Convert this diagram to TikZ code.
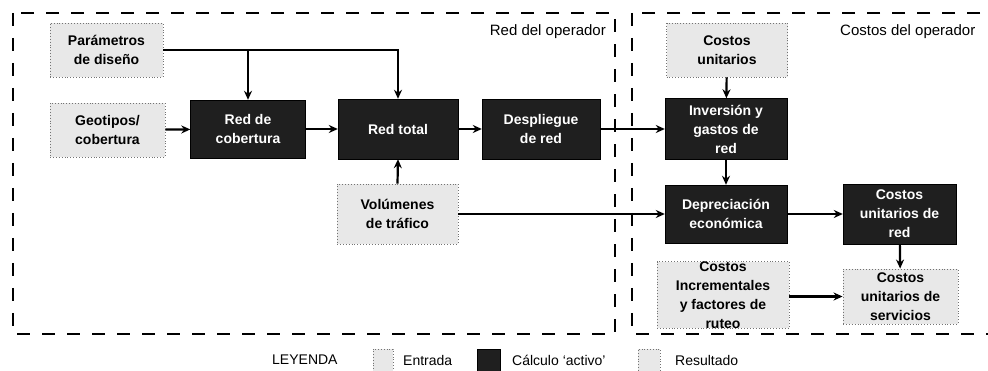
\documentclass[tikz,border=0pt]{standalone}
\usepackage{fontspec}
\setmainfont{Liberation Sans}
\usetikzlibrary{arrows.meta}
\begin{document}
\begin{tikzpicture}[x=1pt,y=-1pt,
  boxfont/.style={font=\fontsize{14}{19}\selectfont\bfseries},
  inbox/.style={boxfont, draw=black!55, dotted, line width=0.9pt, fill=black!9, align=center, inner sep=0pt},
  calcbox/.style={boxfont, draw=black, fill=black!88, text=white, align=center, inner sep=0pt},
  arr/.style={line width=2.2pt, -{Stealth[length=9pt,width=8pt]}},
  zone/.style={dash pattern=on 13pt off 12pt, line width=2.4pt},
  zonelabel/.style={font=\fontsize{15}{18}\selectfont, inner sep=0pt},
  legtext/.style={font=\fontsize{14}{17}\selectfont, inner sep=0pt, anchor=west},
]
\useasboundingbox (0,0) rectangle (988,371);
\clip (0,0) rectangle (988,371);
\fill[white] (0,0) rectangle (988,371);

% zones
\draw[zone] (13,13) rectangle (615,334);
\draw[zone] (632,13) rectangle (1010,334);
\node[zonelabel, anchor=east] (lz) at (606,32) {Red del operador};
\node[zonelabel, anchor=west] (rz) at (840,32) {Costos del operador};

% input boxes
\node[inbox, minimum width=113pt, minimum height=54pt] (param) at (106.5,50) {Parámetros\\de diseño};
\node[inbox, minimum width=115pt, minimum height=54pt] (geo) at (107.5,130) {Geotipos/\\cobertura};
\node[inbox, minimum width=121pt, minimum height=60pt] (vol) at (397.5,214) {Volúmenes\\de tráfico};
\node[inbox, minimum width=121pt, minimum height=54pt] (cu) at (727,50) {Costos\\unitarios};
\node[inbox, minimum width=132pt, minimum height=65pt] (inc) at (723,295) {Costos\\Incrementales\\y factores de\\ruteo};
\node[inbox, minimum width=115pt, minimum height=55pt] (cus) at (900.5,296.5) {Costos\\unitarios de\\servicios};

% calculation boxes
\node[calcbox, minimum width=115pt, minimum height=58pt] (cob) at (248,129) {Red de\\cobertura};
\node[calcbox, minimum width=120pt, minimum height=60pt] (tot) at (398,129) {Red total};
\node[calcbox, minimum width=118pt, minimum height=60pt] (desp) at (541,129) {Despliegue\\de red};
\node[calcbox, minimum width=122pt, minimum height=61pt] (inv) at (726,129) {Inversión y\\gastos de\\red};
\node[calcbox, minimum width=122pt, minimum height=58pt] (dep) at (726,214) {Depreciación\\económica};
\node[calcbox, minimum width=113pt, minimum height=60pt] (cur) at (899.5,214) {Costos\\unitarios de\\red};

% connectors
\draw[arr] (param.east) -| (tot.north);
\draw[arr] (param.east -| cob.north) -- (cob.north);
\draw[arr] (geo) -- (cob);
\draw[arr] (cob) -- (tot);
\draw[arr] (tot) -- (desp);
\draw[arr] (desp) -- (inv);
\draw[arr] (vol.north) -- (tot.south);
\draw[arr] (vol.east) -- (vol.east -| dep.west);
\draw[arr] (cu) -- (inv);
\draw[arr] (inv) -- (dep);
\draw[arr] (dep) -- (cur);
\draw[arr] (cur) -- (cus);
\draw[arr] (inc.east |- cus.west) -- (cus.west);

% legend
\node[legtext] (leg) at (272,360) {LEYENDA};
\node[draw=black!55, dotted, line width=0.8pt, fill=black!9, minimum width=20pt, minimum height=22pt, inner sep=0pt] (swin) at (383,360) {};
\node[legtext] (lin) at (403,360) {Entrada};
\node[draw=black, fill=black!88, minimum width=23pt, minimum height=22pt, inner sep=0pt] (swcalc) at (488.5,360) {};
\node[legtext] (lcalc) at (512,360) {Cálculo ‘activo’};
\node[draw=black!55, dotted, line width=0.8pt, fill=black!9, minimum width=22pt, minimum height=22pt, inner sep=0pt] (swres) at (649,360) {};
\node[legtext] (lres) at (675,360) {Resultado};
\end{tikzpicture}
\end{document}
